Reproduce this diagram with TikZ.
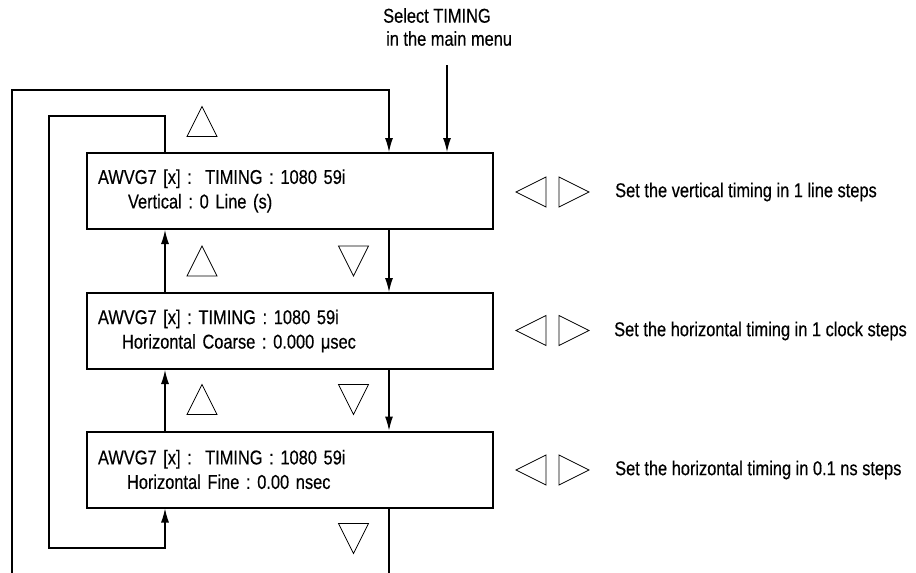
\documentclass[tikz,border=0pt]{standalone}
\usepackage{fontspec}
\setmainfont{Liberation Sans}[FakeStretch=0.82, FakeBold=0.4]
\usetikzlibrary{arrows.meta, positioning}
\frenchspacing

\tikzset{
  menubox/.style={draw, line width=2pt, minimum width=406pt, minimum height=76pt,
    text width=384pt, align=left, inner xsep=11pt, inner ysep=0pt},
  flow/.style={line width=1.1pt, -{Latex[length=14pt, width=8pt]}},
  link/.style={line width=1.1pt},
  note/.style={inner sep=0pt, anchor=west},
  keyline/.style={line width=0.8pt, line join=miter},
  upkey/.pic={\draw[keyline] (-15,15) -- (15,15) -- (0,-15) -- cycle;},
  downkey/.pic={\draw[keyline] (-15,-15) -- (15,-15) -- (0,15) -- cycle;},
  leftkey/.pic={\draw[keyline] (15,-15) -- (15,15) -- (-15,0) -- cycle;},
  rightkey/.pic={\draw[keyline] (-15,-15) -- (-15,15) -- (15,0) -- cycle;}
}

\begin{document}
\begin{tikzpicture}[x=1pt, y=-1pt, font=\fontsize{20}{24.5}\selectfont]
    \useasboundingbox (0,0) rectangle (916,573);

    % menu screens
    \node[menubox] (vert) at (290,191) {AWVG7 [x] :\ \ TIMING : 1080 59i\\\hspace*{30pt}Vertical : 0 Line (s)};
    \node[menubox] (hcoarse) at (290,331) {AWVG7 [x] : TIMING : 1080 59i\\\hspace*{24pt}Horizontal Coarse : 0.000 μsec};
    \node[menubox] (hfine) at (290,469.5) {AWVG7 [x] :\ \ TIMING : 1080 59i\\\hspace*{29pt}Horizontal Fine : 0.00 nsec};

    \node[inner sep=0pt, anchor=north west, align=left, font=\fontsize{20}{23}\selectfont] (select) at (383,8) {Select TIMING\\\hspace*{3pt}in the main menu};

    \node[note] (vdesc) at (615,192) {Set the vertical timing in 1 line steps};
    \node[note] (cdesc) at (614,331) {Set the horizontal timing in 1 clock steps};
    \node[note] (fdesc) at (615,470) {Set the horizontal timing in 0.1 ns steps};

    \coordinate (selstart) at (447,65);
    \coordinate (outtop) at (12,90);
    \coordinate (outbot) at (12,573);
    \coordinate (outexit) at (389,573);
    \coordinate (intop) at (49,116);
    \coordinate (inbot) at (49,548);

    % arrows
    \draw[flow] (selstart) -- (selstart |- vert.north);
    \draw[flow] (outbot) -- (outtop) -| ([xshift=99pt]vert.north);
    \draw[flow] ([xshift=99pt]vert.south) -- ([xshift=99pt]hcoarse.north);
    \draw[flow] ([xshift=99pt]hcoarse.south) -- ([xshift=99pt]hfine.north);
    \draw[link] ([xshift=99pt]hfine.south) -- (outexit);
    \draw[flow] ([xshift=-125pt]hcoarse.north) -- ([xshift=-125pt]vert.south);
    \draw[flow] ([xshift=-125pt]hfine.north) -- ([xshift=-125pt]hcoarse.south);
    \draw[flow] ([xshift=-125pt]vert.north) |- (intop) -- (inbot) -| ([xshift=-125pt]hfine.south);

    % keys
    \pic at (202,121.5) {upkey};
    \pic at (202,261) {upkey};
    \pic at (353.5,261) {downkey};
    \pic at (202,399.5) {upkey};
    \pic at (353.5,399.5) {downkey};
    \pic at (353.5,538.5) {downkey};
    \foreach \y in {192,330.5,470} {
        \pic at (531,\y) {leftkey};
        \pic at (574,\y) {rightkey};
    }
\end{tikzpicture}
\end{document}
